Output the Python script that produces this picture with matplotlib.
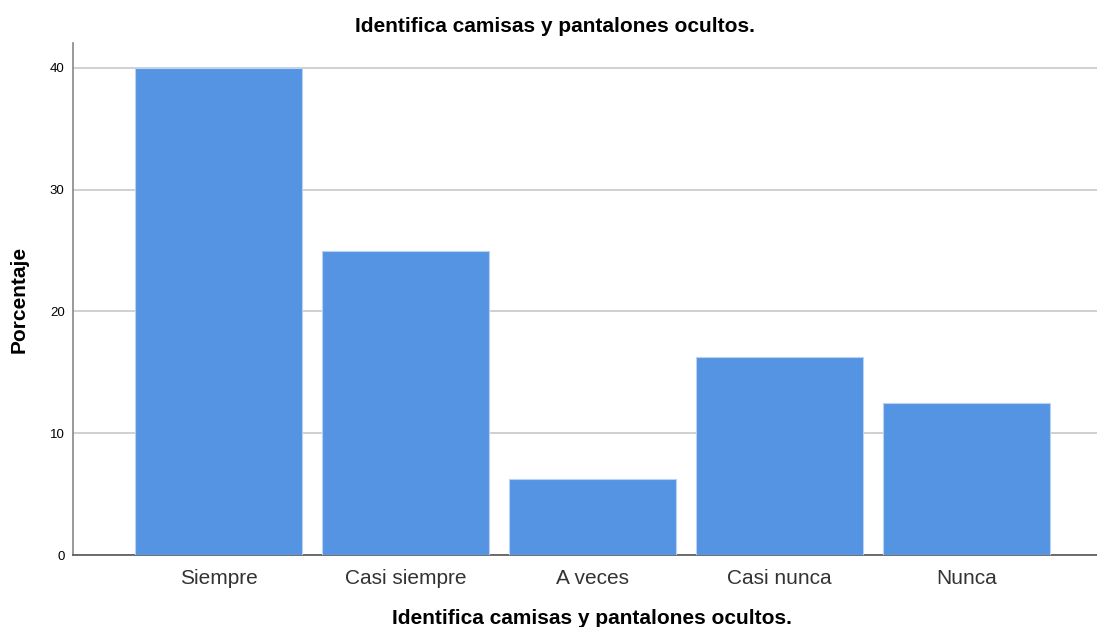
import matplotlib.pyplot as plt

plt.rcParams['font.family'] = ['Liberation Sans', 'DejaVu Sans']

categories = ['Siempre', 'Casi siempre', 'A veces', 'Casi nunca', 'Nunca']
percentages = [40.0, 25.0, 6.25, 16.25, 12.5]
yticks = [0, 10, 20, 30, 40]
title = 'Identifica camisas y pantalones ocultos.'

fig = plt.figure(figsize=(10.97, 6.27), dpi=100)
ax = fig.add_axes([73 / 1097, 72 / 627, 1 - 73 / 1097, (555 - 43) / 627])

x = list(range(len(categories)))
ax.bar(x, percentages, width=0.893, color='#5594e3', edgecolor='#b9d2f3',
       linewidth=0.8, zorder=3)

ax.set_xlim(-0.778, 4.70)
ax.set_ylim(0, 42.05)
ax.set_yticks(yticks)
ax.set_xticks(x)
ax.set_xticklabels(categories, fontsize=15, color='#333333')
ax.tick_params(axis='both', length=0)
ax.tick_params(axis='x', pad=10)
ax.tick_params(axis='y', labelsize=9.5, pad=6)
ax.yaxis.grid(True, color='#c8c8c8', linewidth=1.2, zorder=0)

for side in ['top', 'right']:
    ax.spines[side].set_visible(False)
ax.spines['left'].set_color('#888888')
ax.spines['bottom'].set_color('#555555')
ax.spines['left'].set_linewidth(1.2)
ax.spines['bottom'].set_linewidth(1.2)

# axis titles, x title sits a bit right of the axes centre like the original
ax.set_ylabel('Porcentaje', fontsize=15, fontweight='bold', labelpad=15)
ax.set_xlabel(title, fontsize=15, fontweight='bold', labelpad=15)
ax.xaxis.label.set_position(((592 - 73) / (1097 - 73), 0))
fig.text(555 / 1097, 1 - 27 / 627, title, fontsize=15, fontweight='bold',
         ha='center', va='center')

fig.savefig('out.png', dpi=100)
